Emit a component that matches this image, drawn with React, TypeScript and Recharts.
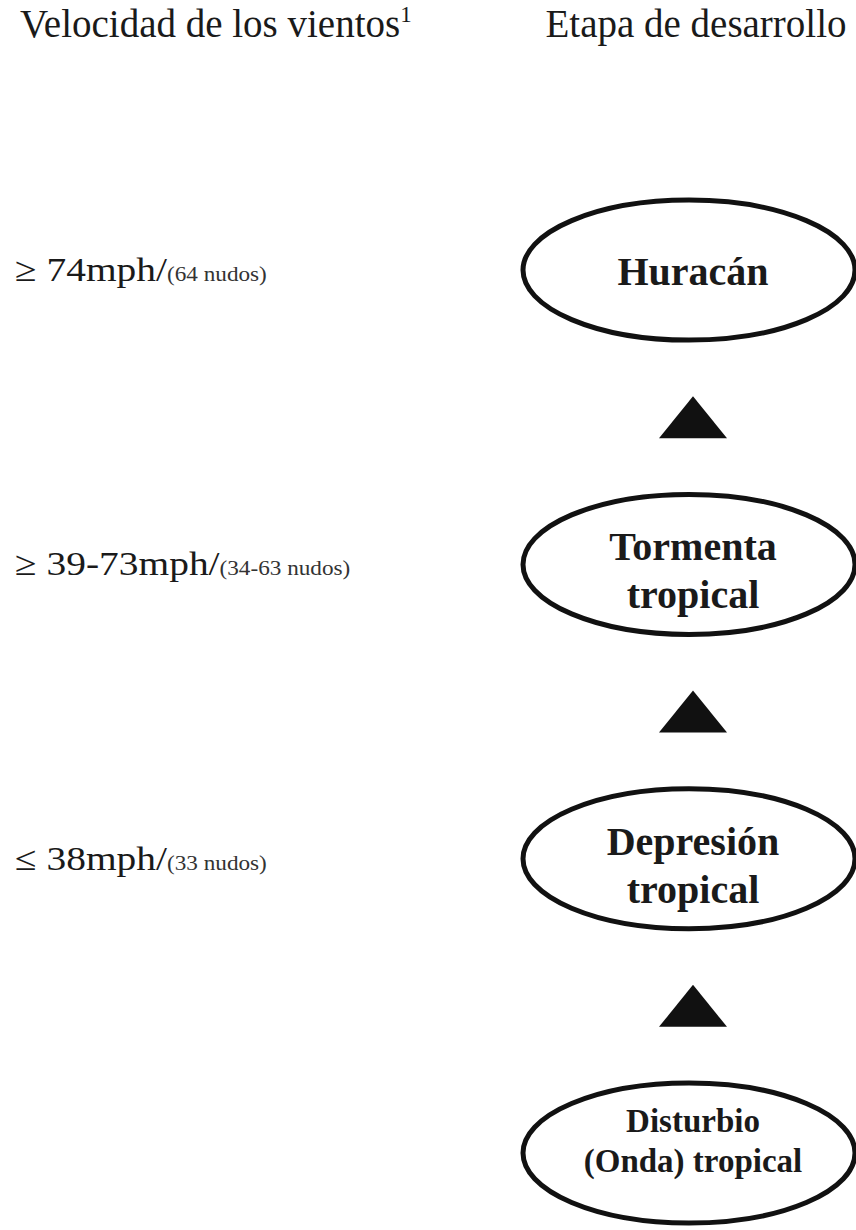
import React from 'react';
import { ScatterChart, Scatter, XAxis, YAxis } from 'recharts';

// stages of development, from the bottom (level 0) up to the top (level 3)
const stageNames = ['Disturbio\n(Onda) tropical', 'Depresión\ntropical', 'Tormenta\ntropical', 'Huracán'];
const stageLevels = [0, 1, 2, 3];

// wind speed that goes with each stage (the disturbance has none)
const windSpeeds = ['≤ 38mph/', '≥ 39-73mph/', '≥ 74mph/'];
const windKnots = ['(33 nudos)', '(34-63 nudos)', '(64 nudos)'];
const windLevels = [1, 2, 3];

// arrows between two stages
const arrowLevels = [0.5, 1.5, 2.5];

// column headers
const headers = ['Velocidad de los vientos', 'Etapa de desarrollo'];
const headerNotes = ['1', ''];

const HEADER_LEVEL = 3.792;
const SERIF = "'Liberation Serif', 'Times New Roman', serif";

const stageData = stageNames.map((name, i) => ({ col: 1, level: stageLevels[i], lines: name.split('\n') }));
const windData = windSpeeds.map((speed, i) => ({ col: 0, level: windLevels[i], speed, knots: windKnots[i] }));
const arrowData = arrowLevels.map(level => ({ col: 1, level }));
const headerData = headers.map((text, i) => ({ col: i, level: HEADER_LEVEL, text, note: headerNotes[i] }));

const StageShape = (props: any) => {
  const { cx, cy, payload } = props;
  const lines: string[] = payload.lines;
  const small = lines.some(l => l.length > 10);
  const fs = small ? 33 : 40;
  const gap = small ? 40 : 48;
  const start = lines.length === 1 ? 15 : small ? -21 : -4;
  return (
    <g>
      <ellipse cx={cx} cy={cy} rx={166} ry={70} fill="#fff" stroke="#111" strokeWidth={5} />
      {lines.map((line, i) => (
        <text
          key={i}
          x={cx + 4}
          y={cy + start + i * gap}
          textAnchor="middle"
          fontFamily={SERIF}
          fontWeight="bold"
          fontSize={fs}
          fill="#1a1a1a"
        >
          {line}
        </text>
      ))}
    </g>
  );
};

const ArrowShape = (props: any) => {
  const { cx, cy } = props;
  const x = cx + 4;
  return <polygon points={`${x - 34},${cy + 21} ${x + 34},${cy + 21} ${x},${cy - 21}`} fill="#111" />;
};

const WindShape = (props: any) => {
  const { cx, cy, payload } = props;
  return (
    <g transform={`translate(${cx},${cy + 11}) scale(1.16,1)`}>
      <text x={0} y={0} fontFamily={SERIF} fontSize={34} fill="#1a1a1a">
        {payload.speed}
        <tspan fontSize={20} fill="#333">{payload.knots}</tspan>
      </text>
    </g>
  );
};

const HeaderShape = (props: any) => {
  const { cx, cy, payload } = props;
  const first = payload.col === 0;
  return (
    <text
      x={first ? cx + 5 : cx + 7}
      y={cy}
      textAnchor={first ? 'start' : 'middle'}
      fontFamily={SERIF}
      fontSize={39}
      fill="#1a1a1a"
    >
      {payload.text}
      {payload.note ? (
        <tspan fontSize={23} dy={-15}>{payload.note}</tspan>
      ) : null}
    </text>
  );
};

const App: React.FC = () => {
  return (
    <div style={{ position: 'absolute', left: 0, top: 0, background: '#fff' }}>
      <ScatterChart width={856} height={1230} margin={{ top: 0, right: 0, bottom: 0, left: 0 }}>
        <XAxis type="number" dataKey="col" domain={[-0.02226, 1.24777]} allowDataOverflow hide />
        <YAxis type="number" dataKey="level" domain={[-0.2616, 3.9178]} allowDataOverflow hide />
        <Scatter data={headerData} shape={<HeaderShape />} isAnimationActive={false} />
        <Scatter data={arrowData} shape={<ArrowShape />} isAnimationActive={false} />
        <Scatter data={stageData} shape={<StageShape />} isAnimationActive={false} />
        <Scatter data={windData} shape={<WindShape />} isAnimationActive={false} />
      </ScatterChart>
    </div>
  );
};

export default App;
